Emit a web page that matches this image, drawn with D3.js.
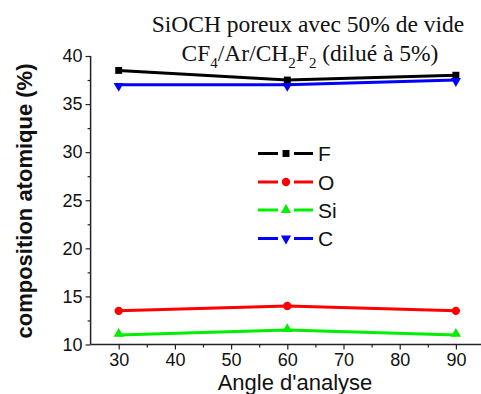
<!DOCTYPE html>
<html><head><meta charset="utf-8">
<script src="https://cdn.jsdelivr.net/npm/d3@7"></script>
<style>body{margin:0;background:#fff}svg{display:block}</style>
</head><body>
<script>
const angles = [30, 60, 90];
const F  = [38.5, 37.5, 38.0];
const O  = [13.5, 14.0, 13.5];
const Si = [11.0, 11.5, 11.0];
const C  = [37.0, 37.0, 37.5];
const seriesNames = ["F", "O", "Si", "C"];
const xTicks = [30, 40, 50, 60, 70, 80, 90];
const yTicks = [10, 15, 20, 25, 30, 35, 40];

const W = 481, H = 394;
const svg = d3.select("body").append("svg").attr("width", W).attr("height", H);
const x = d3.scaleLinear().domain([25, 95]).range([90.6, 484]);
const y = d3.scaleLinear().domain([10, 40]).range([344.5, 56]);

const series = [
  {name: "F", vals: F, color: "#000000", sym: d3.symbolSquare, size: 48, rot: 0},
  {name: "O", vals: O, color: "#ff0000", sym: d3.symbolCircle, size: 55, rot: 0},
  {name: "Si", vals: Si, color: "#00ee00", sym: d3.symbolTriangle, size: 45, rot: 0},
  {name: "C", vals: C, color: "#0000ff", sym: d3.symbolTriangle, size: 45, rot: 180}
];

// axes
const axCol = "#222";
const xAxis = svg.append("g").attr("transform", `translate(0,${y(10)})`)
  .call(d3.axisBottom(x).tickValues(xTicks).tickSize(5).tickPadding(4).tickFormat(d3.format("d")));
svg.append("g").attr("transform", `translate(0,${y(10)})`)
  .call(d3.axisBottom(x).tickValues([35,45,55,65,75,85,95]).tickSize(3).tickFormat(""))
  .select(".domain").remove();
const yAxis = svg.append("g").attr("transform", `translate(${x(25)},0)`)
  .call(d3.axisLeft(y).tickValues(yTicks).tickSize(5).tickPadding(3).tickFormat(d3.format("d")));
svg.append("g").attr("transform", `translate(${x(25)},0)`)
  .call(d3.axisLeft(y).tickValues([12.5,17.5,22.5,27.5,32.5,37.5]).tickSize(3).tickFormat(""))
  .select(".domain").remove();
svg.selectAll(".domain").attr("stroke", axCol).attr("stroke-width", 1.5);
svg.selectAll(".tick line").attr("stroke", axCol).attr("stroke-width", 1.2);
svg.selectAll(".tick text").attr("font-family", "Liberation Sans, Arial, sans-serif")
  .attr("font-size", 18).attr("fill", "#111");
xAxis.select(".domain").attr("d", `M${x(25)},0H${x(95)}`);
yAxis.select(".domain").attr("d", `M0,${y(10)}V${y(40)}`);

// lines
const line = d3.line().x((d,i) => x(angles[i])).y(d => y(d));
series.forEach(s => {
  svg.append("path").attr("d", line(s.vals)).attr("fill", "none")
    .attr("stroke", s.color).attr("stroke-width", 3).attr("stroke-linejoin", "round");
});
series.forEach(s => {
  svg.selectAll(null).data(s.vals).enter().append("path")
    .attr("d", d3.symbol().type(s.sym).size(s.size))
    .attr("transform", (d,i) => `translate(${x(angles[i])},${y(d) + (s.sym===d3.symbolTriangle ? (s.rot ? 1 : -1) : 0)}) rotate(${s.rot})`)
    .attr("fill", s.color);
});

// legend
const legY = [153.5, 182, 210, 238.5];
series.forEach((s, i) => {
  const g = svg.append("g").attr("transform", `translate(0,${legY[i]})`);
  g.append("line").attr("x1", 258).attr("x2", 278).attr("y1", 0).attr("y2", 0).attr("stroke", s.color).attr("stroke-width", 3);
  g.append("line").attr("x1", 294).attr("x2", 313).attr("y1", 0).attr("y2", 0).attr("stroke", s.color).attr("stroke-width", 3);
  g.append("path").attr("d", d3.symbol().type(s.sym).size(s.size))
    .attr("transform", `translate(286,0) rotate(${s.rot})`).attr("fill", s.color);
  g.append("text").attr("x", 318).attr("y", 7.5).text(s.name)
    .attr("font-family", "Liberation Sans, Arial, sans-serif").attr("font-size", 21).attr("fill", "#111");
});

// title
const tf = "Liberation Serif, Times New Roman, serif";
svg.append("text").attr("x", 308).attr("y", 32).attr("text-anchor", "middle")
  .attr("font-family", tf).attr("font-size", 23.5).attr("fill", "#111")
  .text("SiOCH poreux avec 50% de vide");
const t2 = svg.append("text").attr("x", 310).attr("y", 61).attr("text-anchor", "middle")
  .attr("font-family", tf).attr("font-size", 23.5).attr("fill", "#111");
const parts = [["CF",0],["4",1],["/Ar/CH",0],["2",1],["F",0],["2",1],[" (dilué à 5%)",0]];
parts.forEach(([t, sub]) => {
  t2.append("tspan").text(t).attr("font-size", sub ? 15 : 23.5)
    .attr("baseline-shift", sub ? "-7" : null);
});

// axis labels
svg.append("text").attr("x", 295).attr("y", 390).attr("text-anchor", "middle")
  .attr("font-family", "Liberation Sans, Arial, sans-serif").attr("font-size", 22).attr("fill", "#111")
  .text("Angle d'analyse");
svg.append("text").attr("transform", "translate(32,201) rotate(-90)").attr("text-anchor", "middle")
  .attr("font-family", "Liberation Sans, Arial, sans-serif").attr("font-size", 22).attr("font-weight", "bold").attr("fill", "#111")
  .text("composition atomique (%)");
</script>
</body></html>
